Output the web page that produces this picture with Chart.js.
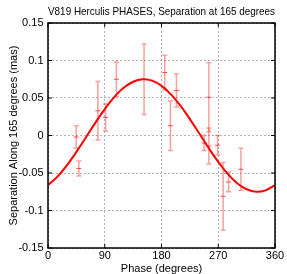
<!DOCTYPE html>
<html lang="en">
<head>
    <meta charset="UTF-8">
    <title>V819 Herculis PHASES</title>
    <style>
        body { margin: 0; background: #fff; }
    </style>
</head>
<body>
    <canvas id="myChart" width="287" height="274"></canvas>

    <script src="https://cdn.jsdelivr.net/npm/chart.js"></script>
    <script>
        // measured points (phase in degrees, separation in mas, +/- error)
        const phase = [44.8, 49.0, 79.1, 91.4, 108.4, 152.3, 185.2, 194.2, 203.7, 247.6, 255.1, 255.1, 268.9, 277.8, 286.4, 305.9];
        const sep   = [-0.002, -0.044, 0.033, 0.024, 0.075, 0.075, 0.084, 0.013, 0.060, -0.010, 0.051, -0.014, -0.013, -0.081, -0.062, -0.045];
        const err   = [0.015, 0.010, 0.039, 0.018, 0.023, 0.047, 0.023, 0.033, 0.022, 0.010, 0.046, 0.024, 0.013, 0.045, 0.013, 0.028];

        // fitted curve
        const curvePhase = [0, 15, 30, 45, 60, 75, 90, 105, 120, 135, 150, 165, 180, 195, 210, 225, 240, 255, 270, 285, 300, 315, 330, 345, 360];
        const curveSep   = [-0.0662, -0.0549, -0.0397, -0.0219, -0.0026, 0.0169, 0.0352, 0.0512, 0.0636, 0.0717, 0.0750, 0.0731, 0.0662, 0.0549, 0.0397, 0.0219, 0.0026, -0.0169, -0.0352, -0.0512, -0.0636, -0.0717, -0.0750, -0.0731, -0.0662];

        const xTicks = [0, 90, 180, 270, 360];
        const yTicks = [-0.15, -0.1, -0.05, 0, 0.05, 0.1, 0.15];
        const yTickLabels = ['-0.15', '-0.1', '-0.05', '0', '0.05', '0.1', '0.15'];

        Chart.defaults.font.family = '"Liberation Sans", Arial, Helvetica, sans-serif';
        Chart.defaults.font.size = 11;
        Chart.defaults.color = '#000';

        const ctx = document.getElementById('myChart');

        // error bars under the datasets
        const errorBars = {
            id: 'errorBars',
            beforeDatasetsDraw(chart) {
                const c = chart.ctx;
                const xs = chart.scales.x, ys = chart.scales.y;
                c.save();
                c.strokeStyle = 'rgba(255, 40, 40, 0.45)';
                c.lineWidth = 1.5;
                for (let i = 0; i < phase.length; i++) {
                    const px = xs.getPixelForValue(phase[i]);
                    const top = ys.getPixelForValue(sep[i] + err[i]);
                    const bot = ys.getPixelForValue(sep[i] - err[i]);
                    c.beginPath();
                    c.moveTo(px, top); c.lineTo(px, bot);
                    c.moveTo(px - 2.5, top); c.lineTo(px + 2.5, top);
                    c.moveTo(px - 2.5, bot); c.lineTo(px + 2.5, bot);
                    c.stroke();
                }
                c.restore();
            }
        };

        // box around the plot + inward ticks on all sides
        const frame = {
            id: 'frame',
            afterDraw(chart) {
                const c = chart.ctx;
                const a = chart.chartArea;
                const xs = chart.scales.x, ys = chart.scales.y;
                c.save();
                c.strokeStyle = '#000';
                c.lineWidth = 1;
                c.beginPath();
                xTicks.forEach(v => {
                    const px = xs.getPixelForValue(v);
                    c.moveTo(px, a.bottom); c.lineTo(px, a.bottom - 4);
                    c.moveTo(px, a.top); c.lineTo(px, a.top + 4);
                });
                yTicks.forEach(v => {
                    const py = ys.getPixelForValue(v);
                    c.moveTo(a.left, py); c.lineTo(a.left + 4, py);
                    c.moveTo(a.right, py); c.lineTo(a.right - 4, py);
                });
                c.stroke();
                c.lineWidth = 1.5;
                c.strokeRect(a.left, a.top, a.right - a.left, a.bottom - a.top);
                c.restore();
            }
        };

        let datasets = [
            {
                label: 'fit',
                data: curvePhase.map((p, i) => ({ x: p, y: curveSep[i] })),
                showLine: true,
                borderColor: '#ff0000',
                borderWidth: 2,
                pointRadius: 0,
                tension: 0.4,
                fill: false,
                order: 0,
            },
            {
                label: 'data',
                data: phase.map((p, i) => ({ x: p, y: sep[i] })),
                showLine: false,
                pointStyle: 'line',
                pointRadius: 2.5,
                borderColor: 'rgba(255, 30, 30, 0.75)',
                borderWidth: 1,
                order: 1,
            },
        ];

        let chart = new Chart(ctx, {
            type: 'scatter',
            data: { datasets: datasets },
            options: {
                responsive: false,
                animation: false,
                layout: { padding: { left: 0, right: 12, top: 0, bottom: 0 } },
                plugins: {
                    legend: { display: false },
                    tooltip: { enabled: false },
                },
                scales: {
                    x: {
                        type: 'linear',
                        position: 'bottom',
                        min: 0,
                        max: 360,
                        afterBuildTicks: s => { s.ticks = xTicks.map(v => ({ value: v })); },
                        afterFit: s => { s.height = 26; },
                        ticks: { padding: 1, maxRotation: 0, autoSkip: false },
                        grid: { color: '#b4b4b4', lineWidth: 1, drawTicks: false },
                        border: { display: false, dash: [2, 2] },
                        title: {
                            display: true,
                            text: 'Phase (degrees)',
                            font: { size: 11, lineHeight: 1 },
                            padding: { top: 0, bottom: 0 },
                        },
                    },
                    x2: {
                        type: 'linear',
                        position: 'top',
                        min: 0,
                        max: 360,
                        afterFit: s => { s.height = 23; },
                        ticks: { display: false },
                        grid: { display: false },
                        border: { display: false },
                        title: {
                            display: true,
                            text: 'V819 Herculis PHASES, Separation at 165 degrees',
                            font: { size: 11, lineHeight: 1 },
                            padding: { top: 6.5, bottom: 0 },
                        },
                    },
                    y: {
                        type: 'linear',
                        min: -0.15,
                        max: 0.15,
                        afterBuildTicks: s => { s.ticks = yTicks.map(v => ({ value: v })); },
                        afterFit: s => { s.width = 48; },
                        ticks: {
                            padding: 4.5,
                            autoSkip: false,
                            callback: (v, i) => yTickLabels[i],
                        },
                        grid: { color: '#b4b4b4', lineWidth: 1, drawTicks: false },
                        border: { display: false, dash: [2, 2] },
                        title: {
                            display: true,
                            text: 'Separation Along 165 degrees (mas)',
                            font: { size: 11, lineHeight: 1 },
                            padding: { top: 8, bottom: 0 },
                        },
                    },
                },
            },
            plugins: [errorBars, frame],
        });
    </script>
</body>
</html>
